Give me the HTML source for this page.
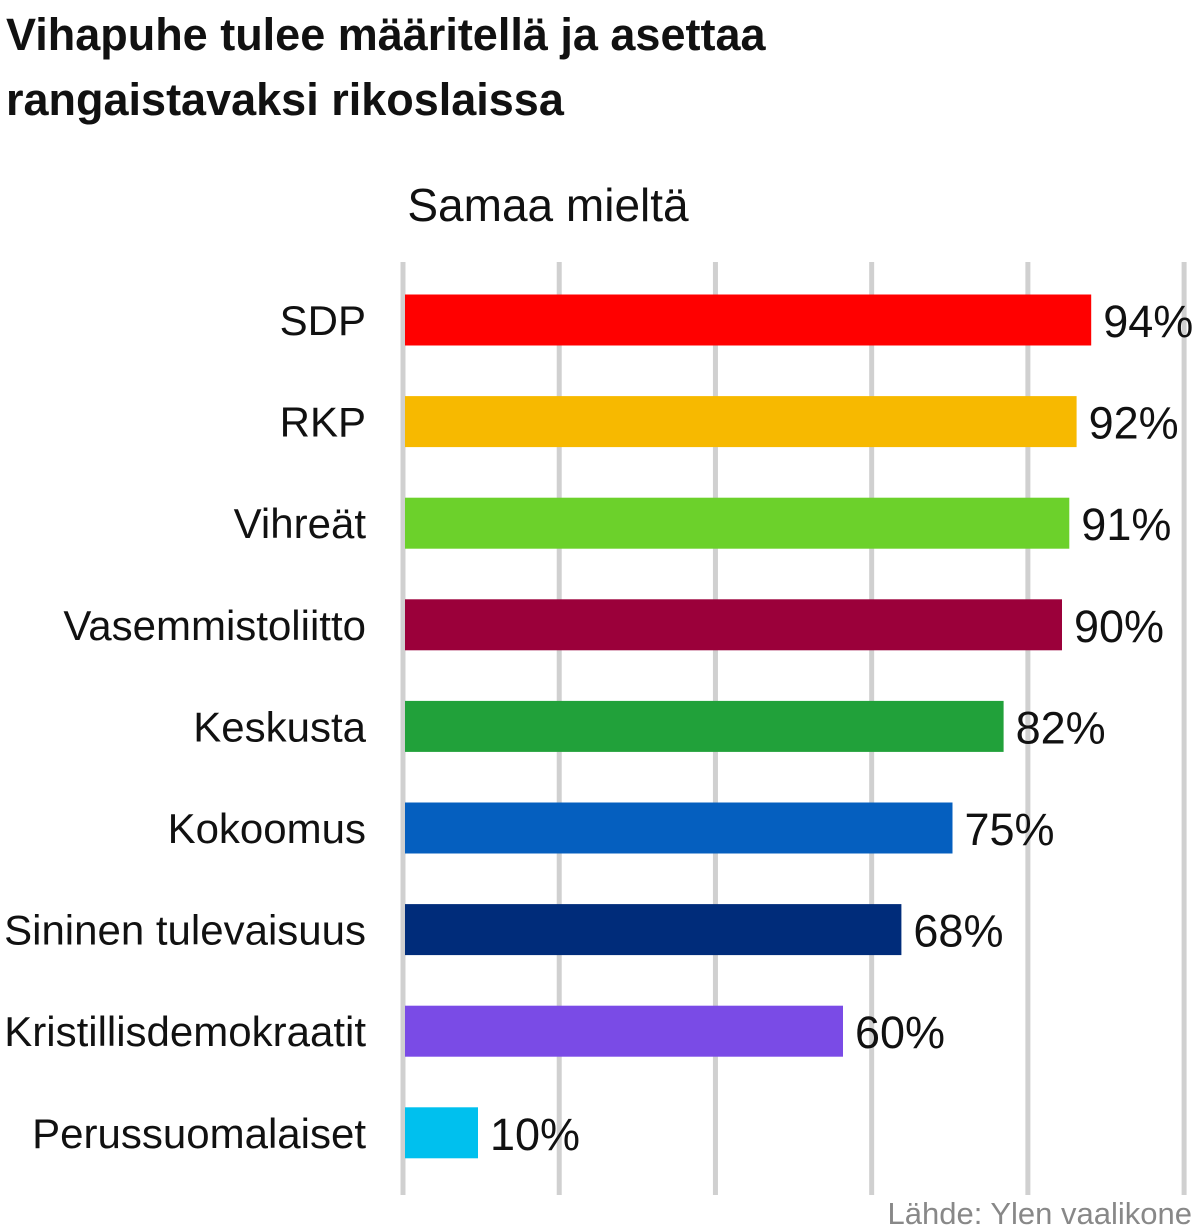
<!DOCTYPE html>
<html><head><meta charset="utf-8"><style>
html,body{margin:0;padding:0;background:#fff;width:1199px;height:1227px;overflow:hidden}
svg{display:block}
.t{font-family:"Liberation Sans",sans-serif;font-weight:bold;font-size:45px;fill:#111}
.c{font-family:"Liberation Sans Narrow","Liberation Sans",sans-serif;fill:#111}
</style></head><body>
<svg id="chart" width="1199" height="1227" viewBox="0 0 1199 1227">
<text class="t" x="6" y="50">Vihapuhe tulee määritellä ja asettaa</text>
<text class="t" x="6" y="115">rangaistavaksi rikoslaissa</text>
<text class="c" x="548" y="221" text-anchor="middle" font-size="46">Samaa mieltä</text>
<g id="grid"></g>
<g id="bars"></g>
<text class="c" x="1192" y="1224" text-anchor="end" font-size="31" fill="#888" style="fill:#888">Lähde: Ylen vaalikone</text>
</svg>
<script>
const categories=["SDP","RKP","Vihreät","Vasemmistoliitto","Keskusta","Kokoomus","Sininen tulevaisuus","Kristillisdemokraatit","Perussuomalaiset"];
const values=[94,92,91,90,82,75,68,60,10];
const colors=["#ff0000","#f7b900","#6cd12b","#9b003a","#21a13a","#055fbf","#002c7a","#7a4be6","#00c0ee"];
const gridTicks=[0,21.4,42.8,64.2,85.6,107];
const NS="http://www.w3.org/2000/svg";
const x0=405, pxPer=7.3;
const xs=v=>x0+v*pxPer;
const ys=i=>320+i*101.6;
const grid=document.getElementById('grid');
gridTicks.forEach((t,i)=>{
  const l=document.createElementNS(NS,'rect');
  
  
  l.setAttribute('x',xs(t)-4.5);l.setAttribute('y',262);
  l.setAttribute('width',5);l.setAttribute('height',933);
  l.setAttribute('fill','#d0d0d0');
  grid.appendChild(l);
});
const g=document.getElementById('bars');
categories.forEach((c,i)=>{
  const y=ys(i);
  const r=document.createElementNS(NS,'rect');
  
  
  r.setAttribute('x',x0);r.setAttribute('y',y-25.5);
  r.setAttribute('width',xs(values[i])-x0);r.setAttribute('height',51);
  r.setAttribute('fill',colors[i]);
  g.appendChild(r);
  const lab=document.createElementNS(NS,'text');
  
  
  lab.setAttribute('class','c');
  lab.setAttribute('x',366);lab.setAttribute('y',y+15);
  lab.setAttribute('text-anchor','end');lab.setAttribute('font-size','42');
  lab.textContent=c;
  g.appendChild(lab);
  const v=document.createElementNS(NS,'text');
  
  
  v.setAttribute('class','c');
  v.setAttribute('x',xs(values[i])+12);v.setAttribute('y',y+17);
  v.setAttribute('font-size','45');
  v.textContent=values[i]+'%';
  g.appendChild(v);
});
</script>
</body></html>
